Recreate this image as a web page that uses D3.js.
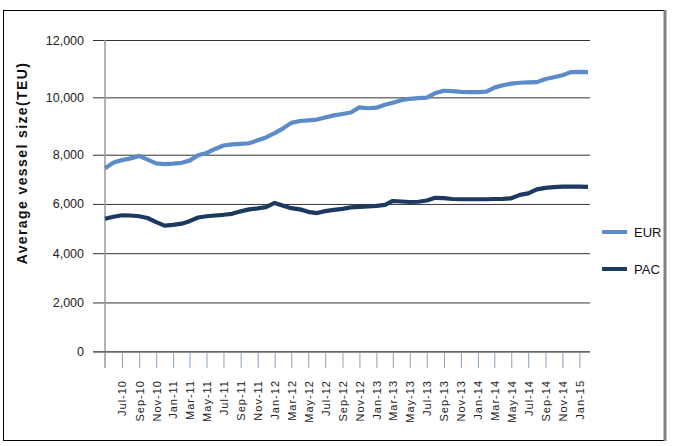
<!DOCTYPE html>
<html><head><meta charset="utf-8">
<script src="https://cdn.jsdelivr.net/npm/d3@7/dist/d3.min.js"></script>
<style>
html,body{margin:0;padding:0;background:#fff;}
svg{display:block;}
</style></head>
<body>
<script>
const months = ["May-10","Jun-10","Jul-10","Aug-10","Sep-10","Oct-10","Nov-10","Dec-10",
"Jan-11","Feb-11","Mar-11","Apr-11","May-11","Jun-11","Jul-11","Aug-11","Sep-11","Oct-11","Nov-11","Dec-11",
"Jan-12","Feb-12","Mar-12","Apr-12","May-12","Jun-12","Jul-12","Aug-12","Sep-12","Oct-12","Nov-12","Dec-12",
"Jan-13","Feb-13","Mar-13","Apr-13","May-13","Jun-13","Jul-13","Aug-13","Sep-13","Oct-13","Nov-13","Dec-13",
"Jan-14","Feb-14","Mar-14","Apr-14","May-14","Jun-14","Jul-14","Aug-14","Sep-14","Oct-14","Nov-14","Dec-14",
"Jan-15","Feb-15"];
const eur = [7450,7680,7780,7850,7950,7800,7650,7620,
7640,7670,7760,7980,8060,8200,8320,8360,8380,8400,8500,8600,
8750,8920,9110,9175,9200,9225,9300,9370,9420,9470,9650,9620,
9640,9740,9810,9900,9950,9970,9990,10150,10230,10220,10190,10180,
10180,10200,10340,10420,10480,10510,10520,10530,10640,10700,10770,10880,
10890,10880];
const pac = [5400,5480,5540,5530,5500,5430,5260,5120,
5150,5200,5300,5450,5500,5530,5560,5600,5700,5780,5820,5870,
6040,5930,5830,5780,5680,5630,5710,5760,5800,5860,5880,5900,
5920,5960,6120,6100,6080,6090,6140,6250,6240,6200,6190,6190,
6190,6190,6200,6210,6230,6370,6430,6590,6650,6680,6700,6700,
6700,6690];
const tickLabels = ["Jul-10","Sep-10","Nov-10","Jan-11","Mar-11","May-11","Jul-11","Sep-11","Nov-11",
"Jan-12","Mar-12","May-12","Jul-12","Sep-12","Nov-12","Jan-13","Mar-13","May-13","Jul-13","Sep-13","Nov-13",
"Jan-14","Mar-14","May-14","Jul-14","Sep-14","Nov-14","Jan-15"];
const yTicks = [0,2000,4000,6000,8000,10000,12000];
const seriesNames = ["EUR","PAC"];
const colors = ["#5b8bc8","#1c3a60"];

const W=685,H=446;
const svg=d3.select("body").append("svg").attr("width",W).attr("height",H);

// frame
svg.append("rect").attr("x",3.5).attr("y",10.5).attr("width",661).attr("height",430)
  .attr("fill","none").attr("stroke","#000").attr("stroke-width",1);
svg.append("line").attr("x1",665).attr("x2",665).attr("y1",10).attr("y2",441)
  .attr("stroke","#808080").attr("stroke-width",3);

const parse=d3.timeParse("%b-%y");
const dates=months.map(parse);
const x=d3.scaleTime().domain([dates[0],dates[dates.length-1]]).range([105,588]);
const y=d3.scaleLinear().domain([0,8000,12000]).range([351.7,154.7,40]);

const fmt=d3.format(",");
const yAxis=d3.axisLeft(y).tickValues(yTicks).tickSize(-485).tickPadding(10).tickFormat(fmt);
const gy=svg.append("g").attr("transform","translate(105,0)").call(yAxis);
gy.select(".domain").remove();
gy.selectAll(".tick line").attr("x1",-12).attr("x2",485).attr("stroke",(d)=>d===0?"#777":"#333").attr("stroke-width",1);
gy.selectAll(".tick text").attr("x",-21).attr("font-family","Liberation Sans, Arial, sans-serif")
  .attr("font-size",12.5).attr("fill","#222");

svg.append("line").attr("x1",105).attr("x2",105).attr("y1",40).attr("y2",368)
  .attr("stroke","#999").attr("stroke-width",1.5);

const tdates=tickLabels.map(parse);
const xAxis=d3.axisBottom(x).tickValues(tdates).tickSize(16).tickPadding(0).tickFormat(d3.timeFormat("%b-%y"));
const gx=svg.append("g").attr("transform","translate(0,352)").call(xAxis);
gx.select(".domain").remove();
gx.selectAll(".tick line").attr("stroke","#8aa3bb").attr("stroke-width",1);
gx.selectAll(".tick text").attr("transform","rotate(-90)").attr("text-anchor","end")
  .attr("x",-28).attr("y",0).attr("dy","0.35em")
  .attr("font-family","Liberation Sans, Arial, sans-serif").attr("font-size",11)
  .attr("letter-spacing","1px").attr("fill","#222");
svg.append("line").attr("x1",93).attr("x2",590).attr("y1",351.7).attr("y2",351.7)
  .attr("stroke","#666").attr("stroke-width",1.2);

const line=d3.line().x((d,i)=>x(dates[i])).y(d=>y(d)).curve(d3.curveLinear);
[eur,pac].forEach((s,k)=>{
  svg.append("path").datum(s).attr("d",line).attr("fill","none")
    .attr("stroke",colors[k]).attr("stroke-width",4.2).attr("stroke-linejoin","round");
});

svg.append("text").attr("transform","translate(27,163) rotate(-90)").attr("text-anchor","middle")
  .attr("font-family","Liberation Sans, Arial, sans-serif").attr("font-weight","bold")
  .attr("font-size",14).attr("letter-spacing","1.4px").attr("fill","#111")
  .text("Average vessel size(TEU)");

const ly=[232,269];
seriesNames.forEach((n,k)=>{
  svg.append("line").attr("x1",602).attr("x2",627).attr("y1",ly[k]).attr("y2",ly[k])
    .attr("stroke",colors[k]).attr("stroke-width",4);
  svg.append("text").attr("x",634).attr("y",ly[k]+5).attr("font-family","Liberation Sans, Arial, sans-serif")
    .attr("font-size",13).attr("fill","#111").text(n);
});
</script>
</body></html>
